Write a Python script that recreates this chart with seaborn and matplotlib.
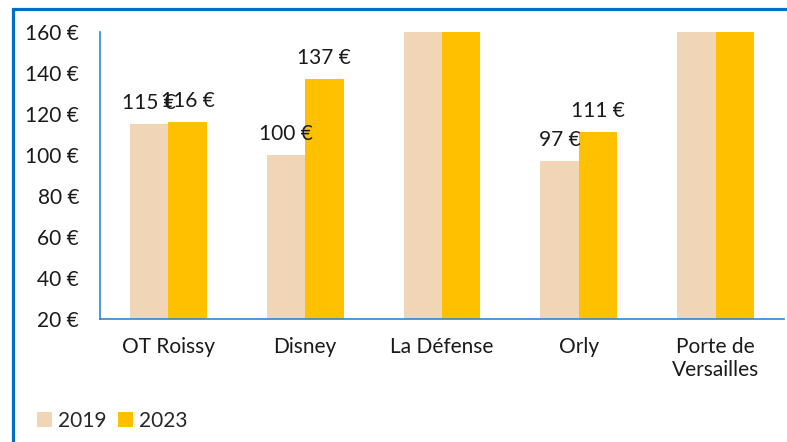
import matplotlib
matplotlib.use("Agg")
import matplotlib.pyplot as plt
from matplotlib.patches import Rectangle, Patch
import pandas as pd
import seaborn as sns

sites = ["OT Roissy", "Disney", "La Défense", "Orly", "Porte de\nVersailles"]
years = ["2019", "2023"]
prices_2019 = [115, 100, 160, 97, 160]
prices_2023 = [116, 137, 160, 111, 160]
labels_2019 = ["115 €", "100 €", "", "97 €", ""]
labels_2023 = ["116 €", "137 €", "", "111 €", ""]
yticks = [20, 40, 60, 80, 100, 120, 140, 160]

colors = ["#F0D6B6", "#FFC000"]
blue = "#0070C0"
axis_blue = "#2F86D6"
FS = 15

sns.set_theme(style="white")
plt.rcParams["font.family"] = ["Lato", "DejaVu Sans"]

df = pd.DataFrame({
    "site": sites * 2,
    "year": [years[0]] * len(sites) + [years[1]] * len(sites),
    "price": prices_2019 + prices_2023,
})

fig = plt.figure(figsize=(7.87, 4.42), dpi=100)
ax = fig.add_axes([100 / 787, 1 - 319 / 442, 684 / 787, 287 / 442])

sns.barplot(data=df, x="site", y="price", hue="year", palette=colors,
            width=0.56, saturation=1, ax=ax, legend=False, linewidth=0)

ax.set_ylim(20, 160)
ax.set_xlim(-0.5, len(sites) - 0.5)
ax.set_yticks(yticks)
ax.set_yticklabels([f"{v} €" for v in yticks])
ax.set_xlabel("")
ax.set_ylabel("")

# category separators as minor ticks on the x axis
ax.set_xticks([i - 0.5 for i in range(len(sites) + 1)], minor=True)
ax.tick_params(axis="x", which="major", length=0, pad=13, labelsize=FS, colors="#1a1a1a")
ax.tick_params(axis="x", which="minor", length=5, width=1.2, color=axis_blue, direction="out")
ax.tick_params(axis="y", which="major", length=6, width=1.2, color=axis_blue,
               direction="out", pad=9, labelsize=FS, labelcolor="#1a1a1a")
ax.xaxis.set_tick_params(which="major", bottom=False)

for side in ["top", "right"]:
    ax.spines[side].set_visible(False)
for side in ["left", "bottom"]:
    ax.spines[side].set_color(axis_blue)
    ax.spines[side].set_linewidth(1.2)

for cont, labs in zip(ax.containers, [labels_2019, labels_2023]):
    ax.bar_label(cont, labels=labs, padding=8, fontsize=FS, color="#1a1a1a")

# legend at lower left
handles = [Patch(facecolor=c, edgecolor="none", label=y) for c, y in zip(colors, years)]
fig.legend(handles=handles, loc="lower left", bbox_to_anchor=(26 / 787, 0.0),
           ncol=2, frameon=False, fontsize=FS, handlelength=0.7, handleheight=0.7,
           handletextpad=0.3, columnspacing=0.55, borderaxespad=0.15)

# outer frame
fig.patches.append(Rectangle((12.5 / 787, -0.1), 1.2, 1.1 - 9.5 / 442,
                             transform=fig.transFigure, fill=False,
                             edgecolor=blue, linewidth=2.3, zorder=10))

fig.savefig("out.png", dpi=100)
